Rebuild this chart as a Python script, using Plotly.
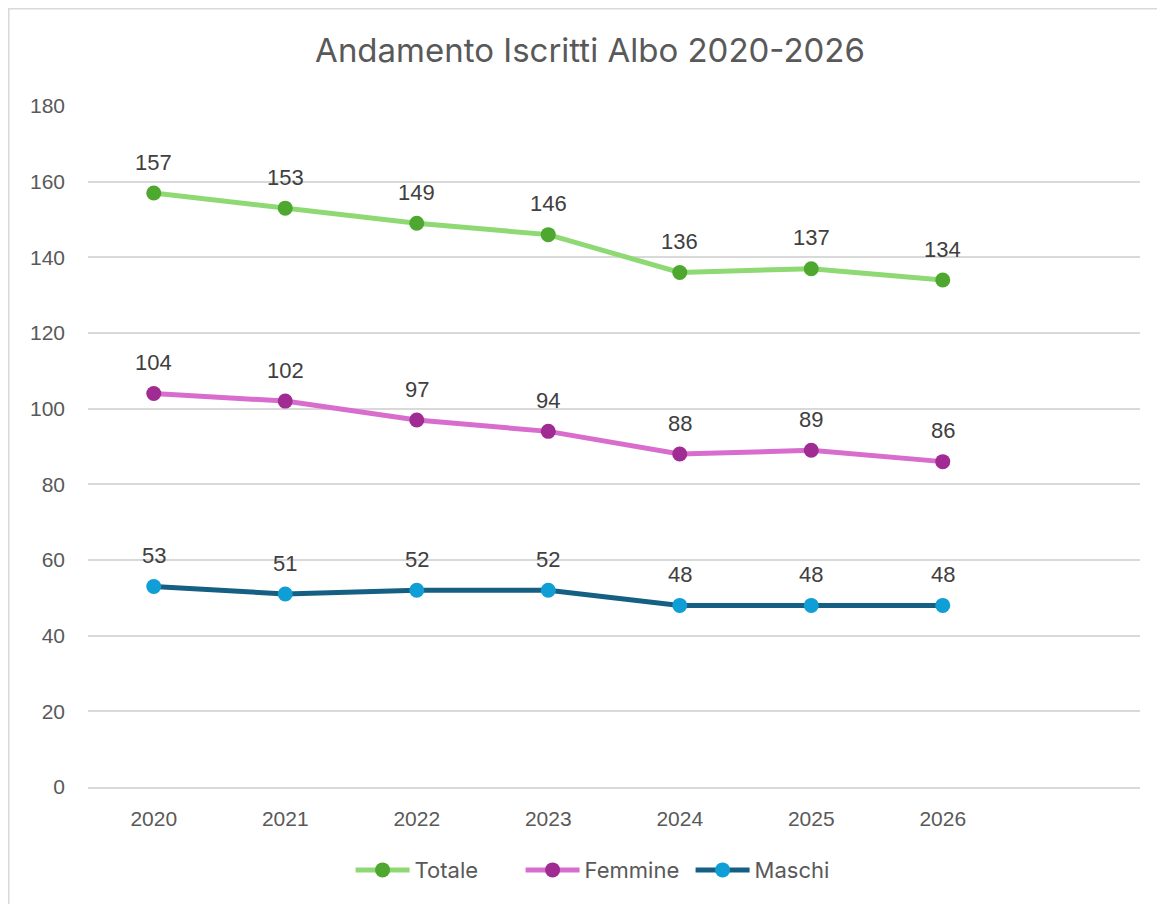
import plotly.graph_objects as go

anni = ["2020", "2021", "2022", "2023", "2024", "2025", "2026"]
totale = [157, 153, 149, 146, 136, 137, 134]
femmine = [104, 102, 97, 94, 88, 89, 86]
maschi = [53, 51, 52, 52, 48, 48, 48]

y_ticks = [0, 20, 40, 60, 80, 100, 120, 140, 160, 180]

serie = [
    ("Totale", totale, "#8ED973", "#4EA72E"),
    ("Femmine", femmine, "#D86DCD", "#A02B93"),
    ("Maschi", maschi, "#156082", "#0F9ED5"),
]

NUM_FONT = "Liberation Sans, Arial, sans-serif"
TXT_FONT = "Inter, Noto Sans, sans-serif"
GREY = "#595959"

fig = go.Figure()
for nome, valori, col_linea, col_punto in serie:
    fig.add_trace(go.Scatter(
        x=anni, y=valori, name=nome, mode="lines+markers",
        line=dict(color=col_linea, width=5),
        marker=dict(color=col_punto, size=15),
    ))
    # etichette dati sopra i punti (x = indice di categoria)
    for i, v in enumerate(valori):
        fig.add_annotation(x=i, y=v, xref="x", yref="y", text=str(v),
                           showarrow=False, yshift=31,
                           font=dict(family=NUM_FONT, size=22, color="#404040"))

fig.add_shape(type="rect", xref="paper", yref="paper",
              x0=-0.076, x1=1.2, y0=-0.3, y1=1.1439,
              line=dict(color="#d9d9d9", width=3), layer="below")

fig.update_layout(
    width=1165, height=904,
    margin=dict(l=80, r=33, t=98, b=125),
    paper_bgcolor="white", plot_bgcolor="white",
    title=dict(text="Andamento Iscritti Albo 2020-2026", x=0.4996, xanchor="center",
               y=0.9535, yanchor="middle",
               font=dict(family=TXT_FONT, size=33, color=GREY)),
    legend=dict(orientation="h", x=0.492, xanchor="center", y=-0.122, yanchor="middle",
                font=dict(family=TXT_FONT, size=22, color=GREY),
                itemwidth=54, entrywidth=101, entrywidthmode="pixels",
                tracegroupgap=0),
    showlegend=True,
)
fig.update_xaxes(type="category", range=[-0.5, 7.5], showgrid=False,
                 showline=True, linecolor="#d9d9d9", linewidth=1.5,
                 tickfont=dict(family=NUM_FONT, size=21, color=GREY),
                 ticklabelstandoff=12)
fig.update_yaxes(range=[0, 180], tickvals=y_ticks, showgrid=True,
                 gridcolor="#d9d9d9", gridwidth=1.5, zeroline=False,
                 tickfont=dict(family=NUM_FONT, size=21, color=GREY),
                 ticklabelstandoff=22)

fig.write_html("out.html")
